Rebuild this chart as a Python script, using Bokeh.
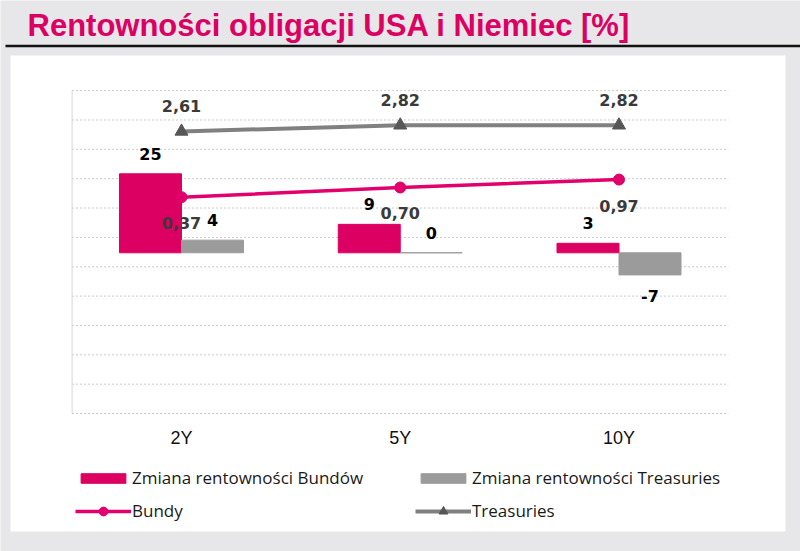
from bokeh.plotting import figure
from bokeh.models import Range1d, ColumnDataSource, Legend, LegendItem
from bokeh.transform import dodge
from bokeh.core.properties import value
from bokeh.embed import file_html
from bokeh.resources import INLINE

# ---------------- data ----------------
categories = ["2Y", "5Y", "10Y"]
bund_change = [25, 9, 3]            # change of Bund yields (bp)
treasury_change = [4, 0, -7]        # change of Treasury yields (bp)
bund_yield = [0.37, 0.70, 0.97]     # Bund yields (%)
treasury_yield = [2.61, 2.82, 2.82] # Treasury yields (%)
grid_values = [-7, -6, -5, -4, -3, -2, -1, 0, 1, 2, 3, 4]  # secondary axis ticks

title_text = "Rentowności obligacji USA i Niemiec [%]"
legend_labels = ["Zmiana rentowności Bundów", "Zmiana rentowności Treasuries",
                 "Bundy", "Treasuries"]

# ---------------- style ----------------
W, H = 800, 551
BG = "#e7e7e9"
PINK = "#dc0062"
PINK_LINE = "#e2006c"
GREY_BAR = "#9b9b9b"
GREY_LINE = "#808080"
GREY_MARK = "#575757"
LABEL_FONT = value("DejaVu Sans")
TITLE_FONT = value("Liberation Sans")
CAT_FONT = value("Liberation Sans")
LEG_FONT = "Open Sans"


def pl(v):
    return f"{v:.2f}".replace(".", ",")


src = ColumnDataSource(dict(
    cat=categories,
    xi=list(range(len(categories))),
    bund=bund_change,
    tre=treasury_change,
    by=bund_yield,
    ty=treasury_yield,
    bund_lbl=[str(v) for v in bund_change],
    tre_lbl=[str(v) for v in treasury_change],
    by_lbl=[pl(v) for v in bund_yield],
    ty_lbl=[pl(v) for v in treasury_yield],
    bund_off=[-20 if v >= 0 else 21 for v in bund_change],
    tre_off=[-20 if v >= 0 else 21 for v in treasury_change],
))

STEP = 218.75   # px per category
X0 = 181.0      # px of first category
p = figure(width=W, height=H, output_backend="svg", toolbar_location=None,
           x_range=Range1d(-X0 / STEP, (W - X0) / STEP),
           y_range=Range1d(-94.53, 79.84),
           x_axis_location=None, y_axis_location=None, title=None,
           min_border=0)
p.grid.visible = False
p.outline_line_color = None
p.background_fill_color = BG
p.border_fill_color = BG

p.extra_x_ranges = {"px": Range1d(0, W)}
p.extra_y_ranges = {"px": Range1d(H, 0), "sec": Range1d(-11.70, 7.07)}

# ---------------- decoration ----------------
p.quad(left=[10], right=[785], top=[55], bottom=[531], x_range_name="px", y_range_name="px",
       fill_color="white", line_color=None)
p.segment(x0=[5], x1=[800], y0=[45.5], y1=[45.5], x_range_name="px", y_range_name="px",
          line_color="#111111", line_width=2.5)
p.text(x=[27], y=[25], text=[title_text], x_range_name="px", y_range_name="px",
       text_font=TITLE_FONT, text_font_size="31px", text_font_style="bold",
       text_color=PINK, text_baseline="middle", text_align="left")

# grid lines and axis line
p.segment(x0=[-0.5] * len(grid_values), x1=[len(categories) - 0.5] * len(grid_values),
          y0=grid_values, y1=grid_values, y_range_name="sec",
          line_color="#c8c8c8", line_dash="2 2", line_width=1)
p.segment(x0=[-0.5], x1=[-0.5], y0=[grid_values[0]], y1=[grid_values[-1]],
          y_range_name="sec", line_color="#d9d9d9", line_width=1)

# ---------------- bars ----------------
BW = 0.2834
pink_bars = p.vbar(x=dodge("xi", -BW / 2), top="bund", bottom=0, width=BW,
                   source=src, fill_color=PINK, line_color=PINK)
grey_bars = p.vbar(x=dodge("xi", BW / 2), top="tre", bottom=0, width=BW,
                   source=src, fill_color=GREY_BAR, line_color=GREY_BAR)

# ---------------- lines ----------------
b_line = p.line(x="xi", y="by", source=src, y_range_name="sec",
                line_color=PINK_LINE, line_width=3.5)
b_mark = p.scatter(x="xi", y="by", source=src, y_range_name="sec", marker="circle",
                   size=11, fill_color=PINK_LINE, line_color=PINK_LINE)
t_line = p.line(x="xi", y="ty", source=src, y_range_name="sec",
                line_color=GREY_LINE, line_width=4)
t_mark = p.scatter(x="xi", y="ty", source=src, y_range_name="sec", marker="triangle",
                   size=13, fill_color=GREY_MARK, line_color=GREY_MARK)

# ---------------- data labels ----------------
common = dict(source=src, text_align="center", text_baseline="middle",
              text_font=LABEL_FONT, text_font_size="16px", text_font_style="bold")
p.text(x=dodge("xi", -BW / 2), y="bund", text="bund_lbl",
       y_offset="bund_off", text_color="#000000", **common)
p.text(x=dodge("xi", BW / 2), y="tre", text="tre_lbl",
       y_offset="tre_off", text_color="#000000", **common)
p.text(x="xi", y="ty", text="ty_lbl", y_range_name="sec", y_offset=-25,
       text_color="#3a3a3a", **common)
p.text(x="xi", y="by", text="by_lbl", y_range_name="sec", y_offset=26,
       text_color="#3a3a3a", **common)

# category labels
p.text(x="xi", y=grid_values[0], text="cat", source=src, y_range_name="sec", y_offset=24,
       text_align="center", text_baseline="middle", text_font=CAT_FONT,
       text_font_size="18px", text_color="#111111")

# ---------------- legends ----------------
leg_kw = dict(orientation="vertical", padding=0, margin=0, spacing=0,
              glyph_width=56, label_standoff=1,
              label_text_font=LEG_FONT, label_text_font_size="17px",
              label_text_color="#1a1a1a", background_fill_alpha=0,
              border_line_color=None)
bar_kw = dict(glyph_height=12, label_height=20, **leg_kw)
line_kw = dict(glyph_height=22, label_height=22, **leg_kw)

legends = [
    Legend(items=[LegendItem(label=legend_labels[0], renderers=[pink_bars])],
           location=(75, 62), **bar_kw),
    Legend(items=[LegendItem(label=legend_labels[1], renderers=[grey_bars])],
           location=(415, 62), **bar_kw),
    Legend(items=[LegendItem(label=legend_labels[2], renderers=[b_line, b_mark])],
           location=(75, 29), **line_kw),
    Legend(items=[LegendItem(label=legend_labels[3], renderers=[t_line, t_mark])],
           location=(415, 29), **line_kw),
]
for lg in legends:
    p.add_layout(lg)

open("out.html", "w").write(file_html(p, INLINE))
